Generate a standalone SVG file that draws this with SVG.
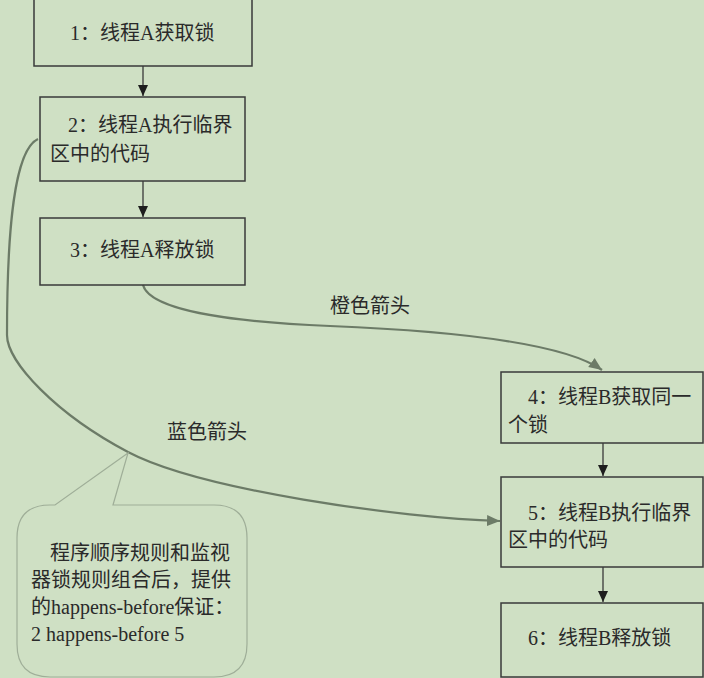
<svg xmlns="http://www.w3.org/2000/svg" width="704" height="678" viewBox="0 0 704 678">
  <style>
    .box { fill: none; stroke: #3a3a3a; stroke-width: 1.5; }
    .t { font-family: "Liberation Serif", "Noto Sans CJK SC", serif; font-size: 20px; fill: #2a2a2a; }
    .step { stroke: #3a3a3a; stroke-width: 1.3; fill: none; marker-end: url(#blackHead); }
    .curve { stroke: #6c7b67; stroke-width: 2.2; fill: none; marker-end: url(#grayHead); }
    .callout { fill: #cfe0c4; stroke: #9fae98; stroke-width: 1.2; }
  </style>
  <defs>
    <marker id="blackHead" markerUnits="userSpaceOnUse" markerWidth="12" markerHeight="12" viewBox="0 0 12 12" refX="11" refY="6" orient="auto">
      <path d="M0,1 L11,6 L0,11 Z" fill="#1e1e1e"/>
    </marker>
    <marker id="grayHead" markerUnits="userSpaceOnUse" markerWidth="14" markerHeight="14" viewBox="0 0 14 14" refX="13" refY="7" orient="auto">
      <path d="M0,1.5 L13,7 L0,12.5 Z" fill="#6c7b67"/>
    </marker>
  </defs>

  <rect width="704" height="678" fill="#cfe0c4"/>

  <g id="connectors">
    <line class="step" x1="143" y1="66" x2="143" y2="96"/>
    <line class="step" x1="143" y1="181" x2="143" y2="217"/>
    <line class="step" x1="603" y1="443" x2="603" y2="476"/>
    <line class="step" x1="603" y1="567" x2="603" y2="602"/>
    <path id="orange-arrow" class="curve" d="M143,285 C150,310 230,322 330,326 C430,330 560,340 602,370"/>
    <path id="blue-arrow" class="curve" d="M38,139 C14,150 7,230 7,335 C7,362 56,414 128,452 C200,490 400,518 500,521"/>
    <text class="t" x="330" y="313">橙色箭头</text>
    <text class="t" x="167" y="439">蓝色箭头</text>
  </g>

  <g id="node1">
    <rect class="box" x="34" y="-1" width="218" height="67"/>
    <text class="t" x="70" y="40">1：线程A获取锁</text>
  </g>
  <g id="node2">
    <rect class="box" x="40" y="97" width="205" height="84"/>
    <text class="t" x="68" y="132">2：线程A执行临界</text>
    <text class="t" x="50" y="161">区中的代码</text>
  </g>
  <g id="node3">
    <rect class="box" x="40" y="218" width="205" height="67"/>
    <text class="t" x="70" y="257">3：线程A释放锁</text>
  </g>
  <g id="node4">
    <rect class="box" x="501" y="372" width="202" height="71"/>
    <text class="t" x="528" y="404">4：线程B获取同一</text>
    <text class="t" x="508" y="432">个锁</text>
  </g>
  <g id="node5">
    <rect class="box" x="501" y="477" width="202" height="90"/>
    <text class="t" x="528" y="520">5：线程B执行临界</text>
    <text class="t" x="508" y="547">区中的代码</text>
  </g>
  <g id="node6">
    <rect class="box" x="501" y="603" width="202" height="74"/>
    <text class="t" x="528" y="645">6：线程B释放锁</text>
  </g>

  <g id="note">
    <path class="callout" d="M50,505 H55 L128,453 L113,505 H214 Q247,505 247,538 V644 Q247,677 214,677 H50 Q17,677 17,644 V538 Q17,505 50,505 Z"/>
    <text class="t" x="50" y="560">程序顺序规则和监视</text>
    <text class="t" x="31" y="587">器锁规则组合后，提供</text>
    <text class="t" x="31" y="614">的happens-before保证：</text>
    <text class="t" x="31" y="641">2 happens-before 5</text>
  </g>
</svg>
